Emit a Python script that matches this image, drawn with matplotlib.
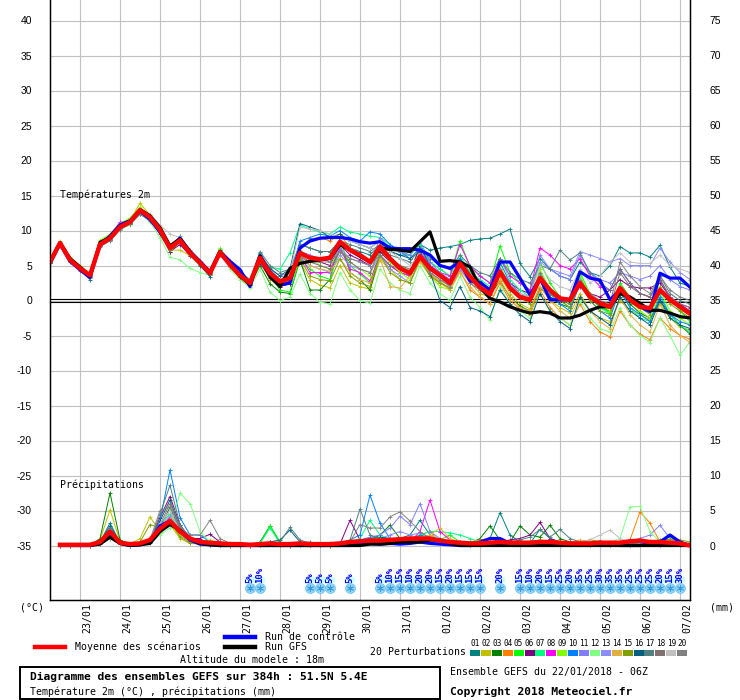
import numpy as np
import matplotlib
matplotlib.use("Agg")
import matplotlib.pyplot as plt
from matplotlib.lines import Line2D
from matplotlib.patches import Rectangle
from matplotlib.transforms import ScaledTranslation

plt.rcParams['font.family'] = ['DejaVu Sans Mono']
plt.rcParams['axes.unicode_minus'] = False

# ---------------- data (6h steps from 22/01 06Z) ----------------
days = ["23/01", "24/01", "25/01", "26/01", "27/01", "28/01", "29/01", "30/01",
        "31/01", "01/02", "02/02", "03/02", "04/02", "05/02", "06/02", "07/02"]
day_idx = [3, 7, 11, 15, 19, 23, 27, 31, 35, 39, 43, 47, 51, 55, 59, 63]

t_mean = [5.5, 8.2, 5.8, 4.6, 3.6, 8.0, 8.9, 10.5, 11.2, 12.9, 11.9, 10.1, 7.5, 8.6, 6.8,
          5.4, 3.9, 6.9, 5.1, 3.6, 2.5, 6.1, 3.9, 2.7, 3.2, 6.8, 6.1, 5.9, 6.1, 8.4,
          7.2, 6.5, 5.5, 7.7, 6.0, 4.6, 3.9, 6.3, 4.6, 3.6, 2.5, 5.3, 3.4, 1.9, 0.9,
          4.1, 1.8, 0.5, 0.1, 3.2, 1.5, 0.3, 0.1, 2.5, 0.5, -0.4, -0.9, 1.8, 0.1, -0.9,
          -1.1, 1.5, 0.1, -0.9, -1.9]
t_ctrl = [5.3, 8.1, 5.6, 4.4, 3.3, 8.0, 9.2, 10.8, 11.4, 12.8, 11.6, 9.8, 7.6, 8.9, 7.0,
          5.6, 4.1, 7.0, 5.6, 4.4, 2.0, 6.4, 4.0, 2.2, 2.5, 7.5, 8.5, 8.9, 9.0, 9.0,
          8.8, 8.4, 8.2, 8.4, 7.5, 7.4, 7.4, 7.2, 6.5, 5.0, 4.6, 5.5, 2.8, 2.6, 1.5,
          5.5, 5.5, 3.2, 0.8, 3.2, 0.1, 0.1, 0.1, 4.1, 3.2, 2.9, 0.1, 1.5, 0.0, -0.9,
          -1.6, 3.9, 3.2, 3.2, 1.9]
t_gfs = [5.6, 8.3, 6.0, 4.8, 3.5, 8.3, 9.0, 10.6, 11.3, 13.0, 12.1, 10.4, 7.8, 8.8, 7.0,
         5.4, 4.0, 7.0, 5.2, 3.5, 2.3, 6.3, 3.4, 2.0, 4.6, 5.3, 5.6, 5.8, 6.0, 8.0,
         7.2, 6.3, 5.5, 7.5, 7.3, 7.2, 7.0, 8.4, 9.8, 5.6, 5.7, 5.5, 4.8, 1.9, 0.3,
         -0.2, -0.9, -1.4, -1.8, -1.6, -1.8, -2.5, -2.5, -2.1, -1.4, -0.9, -0.9, 1.0, 0.5, -0.4,
         -1.4, -1.4, -1.8, -2.3, -2.5]

t_p01 = [5.4, 8.0, 5.9, 4.5, 3.4, 8.3, 9.0, 10.3, 11.0, 12.5, 11.6, 10.0, 7.8, 9.0, 6.9, 5.5, 4.0, 7.0, 5.3, 3.8, 2.8, 6.8, 4.4,
         3.0, 3.5, 8.0, 7.5, 7.0, 7.0, 8.5, 7.5, 7.0, 6.5, 8.0, 7.0, 6.5, 6.5, 8.0, 7.2, 7.5, 7.7, 8.0, 8.6,
         8.8, 8.9, 9.5, 10.2, 5.3, 3.4, 6.0, 4.5, 3.5, 3.0, 5.5, 4.0, 3.5, 5.0, 7.7, 6.8, 6.8, 6.2, 7.9, 4.8, 2.5, 2.0]
t_p02 = [5.6, 8.4, 6.0, 4.8, 3.7, 8.5, 9.1, 10.9, 11.5, 13.9, 12.2, 10.4, 7.2, 7.2, 6.4, 5.0, 3.6, 6.8, 4.8, 3.2, 2.0, 5.5, 3.0,
         2.0, 2.4, 5.5, 3.0, 2.2, 1.8, 5.0, 2.5, 2.0, 1.6, 5.8, 4.5, 3.0, 2.5, 5.6, 3.8, 2.8, 1.5, 4.4, 2.6,
         1.0, 0.5, 3.5, 1.0, -0.5, -1.2, 2.0, 0.0, -1.0, -1.8, 1.0, -1.5, -2.5, -3.0, 0.0, -1.5, -2.0, -2.8, -0.5, -2.5, -3.8, -4.2]
t_p03 = [5.7, 8.1, 5.7, 4.4, 3.5, 8.1, 8.7, 10.4, 11.1, 12.7, 11.8, 9.8, 7.0, 8.4, 6.6, 5.2, 3.7, 6.6, 4.9, 3.4, 2.2, 5.0, 2.4,
         1.2, 1.0, 5.8, 1.5, 1.5, 3.0, 9.0, 4.0, 3.0, 1.5, 6.5, 5.0, 4.0, 3.5, 6.2, 4.5, 3.5, 2.0, 5.0, 3.0,
         2.2, 0.8, 2.8, 0.5, -0.8, -1.5, 1.8, 0.5, -0.5, -1.0, 2.5, 0.5, -1.0, -1.5, 1.0, -0.5, -1.8, -2.5, 0.0, -2.0, -3.5, -4.8]
t_p04 = [5.5, 8.3, 5.8, 4.7, 3.6, 8.2, 8.8, 10.6, 11.3, 13.0, 12.0, 10.3, 7.7, 8.7, 6.9, 5.4, 3.8, 7.0, 5.0, 3.5, 2.4, 5.8, 3.4,
         2.0, 2.8, 7.5, 8.8, 9.0, 8.5, 9.5, 7.5, 6.5, 5.8, 7.0, 5.5, 4.5, 4.0, 6.0, 3.8, 2.5, 1.8, 4.2, 1.5,
         0.5, -0.5, 2.5, 0.0, -1.2, -2.0, 1.5, -1.0, -2.5, -3.5, -0.5, -3.0, -4.5, -5.2, -1.5, -3.5, -4.8, -5.6, -2.5, -4.0, -5.0, -5.5]
t_p05 = [5.3, 8.0, 6.1, 4.9, 3.8, 8.4, 9.2, 11.0, 11.6, 12.8, 11.5, 9.6, 7.4, 8.2, 6.6, 5.1, 3.7, 7.3, 5.6, 4.0, 2.7, 6.7, 3.6,
         1.5, 1.2, 6.0, 4.5, 3.5, 3.0, 7.5, 5.0, 3.8, 2.5, 7.0, 6.0, 5.0, 4.2, 7.5, 5.5, 4.5, 3.5, 8.5, 4.8,
         3.5, 2.5, 7.8, 4.0, 2.5, 1.5, 5.5, 2.5, 0.5, -0.5, 4.0, 1.0, -0.8, -1.8, 2.5, 0.5, -0.8, -1.5, 3.0, 0.5, -1.5, -3.0]
t_p06 = [5.6, 8.2, 5.7, 4.5, 3.5, 7.8, 8.6, 10.2, 11.4, 12.4, 11.5, 9.5, 7.0, 8.0, 6.4, 5.3, 3.9, 6.5, 5.0, 3.6, 2.6, 5.4, 3.2,
         2.0, 2.4, 7.0, 6.0, 5.5, 5.0, 8.0, 6.5, 5.8, 5.0, 7.0, 5.5, 4.5, 4.0, 7.8, 5.0, 3.8, 3.0, 6.0, 4.0,
         2.8, 1.5, 4.0, 2.5, 1.5, 1.0, 3.0, 1.5, 0.5, 0.0, 2.0, 1.0, 0.5, 1.5, 3.0, 2.0, 1.8, 1.8, 2.5, 0.5, -0.5, -1.5]
t_p07 = [5.4, 8.1, 5.9, 4.6, 3.7, 8.1, 9.0, 10.7, 11.2, 12.6, 11.7, 10.2, 7.9, 8.7, 6.7, 5.5, 4.1, 7.4, 5.2, 3.7, 2.3, 6.0, 4.8,
         4.5, 6.8, 10.8, 10.2, 9.8, 9.5, 10.5, 9.8, 9.5, 9.2, 9.0, 8.0, 7.0, 6.5, 8.0, 5.5, 4.5, 3.5, 6.5, 4.0,
         3.0, 2.0, 6.0, 3.0, 1.5, 0.5, 4.0, 1.5, 0.0, -1.0, 3.5, 0.5, -1.0, -2.0, 1.5, -1.0, -2.5, -3.0, 1.0, -2.0, -3.5, -4.5]
t_p08 = [5.5, 8.2, 5.8, 4.6, 3.6, 8.0, 9.3, 11.2, 11.3, 12.9, 12.0, 10.0, 7.5, 8.5, 6.8, 5.3, 3.8, 6.9, 5.2, 3.6, 2.5, 6.2, 3.8,
         2.5, 3.0, 6.5, 4.0, 4.0, 4.0, 7.5, 4.5, 4.0, 2.8, 6.5, 5.0, 4.0, 3.5, 7.0, 5.0, 4.0, 3.5, 8.0, 5.0,
         3.5, 2.5, 6.0, 3.5, 2.5, 1.5, 7.5, 6.5, 5.0, 4.5, 6.0, 3.5, 2.0, 1.5, 4.5, 2.5, 1.0, 0.5, 3.0, 0.5, -0.5, -1.0]
t_p09 = [5.6, 8.5, 6.2, 5.0, 3.9, 8.6, 9.5, 11.0, 11.8, 13.3, 12.2, 10.5, 7.3, 8.8, 7.0, 5.6, 4.2, 7.5, 5.4, 3.9, 2.9, 6.5, 4.1,
         2.8, 3.0, 7.2, 6.0, 5.0, 4.5, 8.0, 5.5, 4.5, 3.5, 7.5, 5.5, 4.0, 3.0, 6.5, 3.5, 2.0, 1.5, 5.5, 3.0,
         2.0, 1.0, 5.0, 2.0, 0.5, 0.0, 4.5, 1.5, 0.5, -0.5, 3.5, 1.0, -0.5, -1.5, 2.0, 0.0, -1.5, -2.5, 1.5, -1.5, -2.5, -3.5]
t_p10 = [5.4, 8.2, 5.7, 4.5, 3.5, 8.0, 8.9, 10.6, 11.3, 12.8, 11.8, 10.1, 7.6, 8.6, 6.9, 5.6, 3.9, 6.8, 5.5, 4.3, 2.8, 6.3, 4.2,
         3.0, 3.5, 8.5, 9.0, 9.5, 9.2, 10.0, 9.0, 8.5, 9.8, 9.5, 8.0, 7.0, 6.0, 7.5, 5.0, 3.5, 2.5, 6.0, 3.5,
         2.5, 1.5, 5.5, 2.5, 1.0, 0.0, 3.5, 1.0, -0.5, -1.5, 2.5, 0.0, -1.5, -2.5, 1.5, -1.0, -2.0, -3.0, 0.5, -2.0, -3.0, -3.5]
t_p11 = [5.3, 8.0, 5.6, 4.3, 3.3, 7.9, 8.7, 10.4, 11.0, 12.6, 11.6, 9.9, 7.4, 8.5, 6.7, 5.3, 3.8, 6.7, 5.2, 3.7, 2.6, 6.4, 4.5,
         3.5, 4.0, 7.0, 6.5, 6.0, 5.5, 7.5, 6.0, 5.5, 5.0, 9.0, 7.5, 7.0, 6.5, 8.5, 5.5, 4.0, 3.0, 5.5, 3.5,
         2.5, 1.5, 4.5, 2.5, 1.0, 0.5, 6.5, 4.5, 3.5, 3.0, 6.5, 4.0, 3.0, 2.5, 4.0, 3.5, 3.0, 3.5, 5.0, 3.0, 2.0, 1.5]
t_p12 = [5.7, 8.3, 6.0, 4.7, 3.8, 8.3, 8.9, 10.2, 10.8, 12.5, 11.2, 9.0, 6.2, 5.8, 4.6, 4.0, 3.6, 7.2, 4.5, 3.0, 1.8, 4.5, 1.2,
         0.0, 0.5, 3.8, 1.0, -0.2, -0.5, 4.0, 1.5, 0.0, -0.4, 4.5, 2.5, 1.5, 1.0, 5.0, 2.5, 1.0, 0.0, 3.5, 0.5,
         -1.0, -2.8, 2.0, -0.5, -1.5, -2.5, 1.0, -1.5, -2.5, -3.5, 0.0, -2.5, -4.0, -4.5, -1.0, -3.5, -5.0, -6.0, -2.5, -5.0, -7.8, -5.9]
t_p13 = [5.5, 8.1, 5.8, 4.6, 3.5, 8.1, 9.0, 10.5, 11.2, 12.8, 11.9, 10.2, 7.6, 8.6, 6.8, 5.5, 4.0, 6.9, 5.3, 3.8, 2.7, 6.0, 3.8,
         2.6, 3.2, 6.0, 5.0, 4.5, 4.0, 6.5, 5.0, 4.5, 4.0, 6.5, 4.5, 3.5, 2.5, 6.0, 4.0, 3.0, 2.0, 4.5, 2.5,
         1.5, 0.5, 4.5, 2.0, 1.0, 0.5, 5.5, 4.5, 4.0, 3.5, 7.0, 6.5, 6.0, 5.5, 6.0, 5.0, 5.0, 5.0, 7.5, 5.5, 4.0, 3.0]
t_p14 = [5.6, 8.4, 5.9, 4.7, 3.6, 8.2, 8.9, 10.6, 11.4, 13.1, 12.0, 10.2, 7.4, 8.5, 6.6, 5.2, 3.7, 6.7, 4.8, 3.4, 2.3, 5.7, 3.5,
         2.5, 3.0, 6.5, 5.0, 4.5, 4.2, 6.0, 4.0, 3.0, 2.5, 6.0, 2.0, 1.8, 3.5, 5.5, 3.5, 2.5, 1.5, 4.0, 2.0,
         0.5, -0.5, 3.0, 0.5, -1.0, -1.5, 2.0, 0.0, -1.5, -2.5, 0.5, -1.5, -3.0, -4.0, 0.5, -2.0, -3.5, -4.5, -0.5, -3.5, -5.0, -6.0]
t_p15 = [5.4, 8.2, 5.7, 4.5, 3.4, 7.9, 8.8, 10.5, 11.2, 12.9, 11.9, 10.0, 7.2, 8.3, 6.5, 5.1, 3.6, 6.6, 4.9, 3.4, 2.4, 5.9, 3.7,
         2.4, 2.9, 6.0, 3.5, 3.0, 2.8, 6.0, 3.5, 2.5, 2.0, 6.5, 4.0, 3.0, 2.5, 6.0, 3.5, 2.5, 1.8, 5.0, 3.0,
         1.5, 0.5, 4.0, 1.5, 0.5, -0.5, 3.0, 1.0, 0.0, -1.0, 2.5, 0.0, -1.5, -2.0, 2.0, 0.0, -1.0, -2.0, 2.0, -0.5, -1.5, -2.5]
t_p16 = [5.5, 8.1, 5.6, 4.3, 3.0, 7.8, 8.8, 10.4, 11.1, 12.7, 11.7, 9.9, 7.6, 8.8, 6.6, 5.0, 3.4, 7.0, 5.1, 3.3, 2.2, 6.5, 4.6,
         3.5, 4.5, 11.0, 10.5, 10.0, 9.0, 9.5, 8.5, 8.0, 7.5, 8.5, 7.0, 6.5, 6.0, 7.0, 4.0, 0.0, -1.0, 2.0, -1.0,
         -1.5, -2.3, 1.5, -0.5, -2.0, -3.0, 1.0, -1.5, -3.0, -4.0, 0.5, -1.5, -2.5, -3.5, 0.5, -1.5, -2.5, -3.5, 0.0, -2.5, -3.5, -4.0]
t_p17 = [5.3, 7.9, 5.5, 4.2, 3.2, 7.7, 8.5, 10.1, 10.9, 12.3, 11.4, 9.8, 7.3, 9.2, 7.2, 5.7, 4.2, 7.2, 5.6, 4.1, 3.0, 7.0, 5.0,
         4.0, 4.5, 8.0, 7.5, 7.0, 7.0, 8.5, 8.0, 7.5, 7.0, 8.0, 6.5, 6.0, 5.5, 7.5, 6.0, 5.0, 4.5, 6.5, 5.0,
         4.0, 3.5, 6.0, 4.0, 3.0, 2.5, 5.0, 4.5, 7.2, 5.8, 6.8, 4.0, 2.5, 1.5, 4.5, 2.5, 1.0, 0.5, 3.5, 1.0, 0.0, -0.5]
t_p18 = [5.6, 8.2, 5.9, 4.6, 3.7, 8.1, 9.0, 10.6, 11.3, 12.9, 12.0, 10.1, 7.5, 8.6, 6.8, 5.4, 3.9, 6.8, 5.0, 3.5, 2.4, 6.0, 3.6,
         2.2, 2.8, 6.5, 5.5, 5.0, 4.5, 7.0, 5.5, 4.5, 4.0, 7.5, 6.0, 5.0, 4.5, 6.5, 4.5, 3.5, 2.5, 5.0, 3.0,
         2.0, 1.0, 4.0, 1.5, 0.5, 0.0, 3.5, 1.0, 0.0, -0.5, 2.5, 0.5, -0.5, -1.0, 4.0, 2.0, 1.0, 0.5, 3.0, 0.5, -0.5, -1.0]
t_p19 = [5.5, 8.2, 5.8, 4.6, 3.6, 8.0, 9.2, 10.8, 11.5, 13.0, 12.3, 10.8, 9.5, 9.0, 7.2, 5.6, 4.0, 7.0, 5.2, 3.7, 2.5, 6.2, 4.0,
         3.0, 4.0, 10.5, 10.2, 10.0, 9.5, 9.0, 8.5, 8.0, 7.5, 8.5, 7.0, 6.0, 5.0, 6.5, 4.5, 3.0, 2.0, 5.0, 3.0,
         1.5, 0.5, 4.5, 2.0, 1.0, 0.5, 5.0, 3.0, 2.0, 1.5, 4.5, 2.5, 3.5, 5.5, 6.8, 5.5, 5.3, 5.3, 6.5, 5.0, 4.5, 4.0]
t_p20 = [5.4, 8.0, 5.7, 4.4, 3.4, 7.8, 8.7, 10.3, 11.0, 12.6, 11.6, 9.9, 7.3, 8.4, 6.7, 5.3, 3.9, 6.8, 5.1, 3.6, 2.6, 6.1, 3.9,
         2.7, 3.3, 6.2, 5.5, 5.5, 5.5, 7.0, 6.0, 5.5, 5.0, 6.5, 5.0, 4.5, 4.0, 6.5, 4.0, 3.0, 2.0, 5.0, 2.5,
         1.5, 0.5, 4.5, 2.0, 0.5, 0.0, 4.0, 1.5, 0.5, 0.0, 3.0, 1.0, 0.0, -0.5, 5.5, 3.5, 2.0, 1.0, 3.5, 1.5, 0.5, 0.0]
t_pert = [t_p01, t_p02, t_p03, t_p04, t_p05, t_p06, t_p07, t_p08, t_p09, t_p10,
          t_p11, t_p12, t_p13, t_p14, t_p15, t_p16, t_p17, t_p18, t_p19, t_p20]

# precipitation (mm per 6h), from step 1
r_mean = [0.1, 0.1, 0.1, 0.1, 0.5, 2.0, 0.4, 0.2, 0.3, 0.8, 2.4, 3.5, 2.0, 1.0, 0.5, 0.4,
          0.3, 0.2, 0.2, 0.1, 0.2, 0.3, 0.2, 0.2, 0.3, 0.2, 0.2, 0.2, 0.3, 0.5, 0.6, 0.7,
          0.7, 0.8, 0.9, 1.0, 1.0, 1.0, 0.7, 0.5, 0.4, 0.3, 0.3, 0.4, 0.5, 0.4, 0.4, 0.4,
          0.5, 0.5, 0.4, 0.3, 0.3, 0.3, 0.4, 0.4, 0.4, 0.6, 0.7, 0.5, 0.5, 0.4, 0.3, 0.0]
r_ctrl = [0, 0, 0, 0, 0.3, 1.5, 0.3, 0, 0.1, 0.5, 2.8, 3.5, 2.0, 0.8, 0.2, 0.1,
          0, 0, 0, 0, 0, 0, 0, 0, 0, 0, 0, 0, 0, 0, 0.2, 0.3,
          0.2, 0.3, 0.2, 0.3, 0.5, 0.3, 0.2, 0.1, 0, 0, 0.5, 1.0, 1.0, 0.3, 0.1, 0,
          0.2, 0.5, 0.3, 0.1, 0, 0.2, 0.5, 0.2, 0, 0, 0, 0.3, 0.5, 1.5, 0.5, 0]
r_gfs = [0, 0, 0, 0, 0.2, 1.2, 0.3, 0, 0.1, 0.3, 2.0, 3.0, 2.2, 1.0, 0.3, 0.1,
         0, 0, 0, 0, 0, 0, 0, 0, 0, 0, 0, 0, 0, 0, 0, 0.2,
         0.2, 0.3, 0.5, 0.5, 0.5, 0.8, 0.8, 0.3, 0, 0, 0, 0, 0, 0, 0, 0,
         0, 0, 0, 0, 0, 0, 0, 0, 0, 0, 0, 0, 0, 0, 0, 0]

r_p01 = [0, 0, 0, 0, 0.5, 3.2, 0.4, 0, 0.2, 0.8, 2.5, 4.0, 1.5, 0.5, 0.2, 0.3,
         0.2, 0, 0, 0, 0.2, 0.5, 0.3, 0.2, 0.3, 0.5, 0.2, 0.1, 0.3, 0.5, 0.8, 0.6,
         0.5, 0.8, 1.0, 1.5, 3.6, 1.5, 0.8, 0.5, 0.3, 0.2, 0.5, 1.0, 4.7, 1.5, 0.5, 0.3,
         2.3, 1.0, 0.5, 0.3, 0.2, 0.2, 0.3, 0.2, 0.5, 0.3, 0.2, 0.5, 0.3, 0.2, 0.1, 0]
r_p02 = [0, 0, 0, 0, 0.8, 5.1, 0.6, 0.2, 1.0, 4.1, 2.0, 3.0, 1.0, 0.3, 0.2, 0.1,
         0.3, 0.2, 0, 0, 0.3, 0.2, 0.1, 0, 0.2, 0.3, 0.1, 0, 0.2, 0.3, 0.5, 0.4,
         0.8, 0.6, 0.5, 0.8, 1.0, 0.6, 0.4, 0.3, 0.2, 0.3, 0.5, 0.6, 0.4, 0.3, 0.2, 0.5,
         0.8, 0.6, 0.4, 0.3, 0.5, 0.8, 0.6, 0.3, 0.5, 0.8, 0.6, 0.4, 0.6, 0.8, 0.5, 0.2]
r_p03 = [0, 0, 0, 0, 1.0, 7.5, 0.8, 0.2, 0.3, 0.5, 2.5, 5.5, 2.0, 0.5, 0.3, 0.5,
         0.2, 0.1, 0, 0, 0.5, 2.8, 0.5, 0.2, 0.3, 0.2, 0.1, 0.2, 0.3, 0.5, 0.4, 0.8,
         1.5, 2.9, 1.0, 0.5, 0.6, 0.8, 0.5, 0.3, 0.2, 0.3, 1.0, 2.8, 0.8, 0.5, 2.8, 1.5,
         1.2, 2.9, 1.0, 0.5, 0.3, 0.2, 0.3, 0.5, 0.3, 0.5, 1.0, 0.5, 0.3, 0.2, 0.5, 0.2]
r_p04 = [0, 0, 0, 0, 0.3, 1.5, 0.3, 0, 0.2, 0.5, 3.0, 4.5, 2.5, 0.8, 0.3, 0.2,
         0.1, 0, 0, 0, 0.2, 0.3, 0.2, 0.1, 0.2, 0.3, 0.2, 0.1, 0.2, 0.3, 0.2, 0.3,
         0.5, 0.3, 0.8, 0.5, 1.5, 2.0, 0.5, 0.3, 0.2, 0.5, 0.8, 0.3, 0.2, 0.5, 0.3, 0.2,
         0.3, 0.2, 0.2, 0.3, 0.5, 0.3, 0.2, 0.3, 0.5, 0.8, 4.8, 3.2, 0.5, 0.3, 0.2, 0.1]
r_p05 = [0, 0, 0, 0, 0.3, 1.8, 0.4, 0, 0.2, 0.3, 2.0, 3.5, 1.5, 0.8, 0.3, 0.2,
         0.1, 0, 0, 0, 0.3, 2.8, 0.5, 0.2, 0.2, 0.1, 0.2, 0.3, 0.3, 0.5, 0.8, 1.0,
         0.8, 0.6, 0.8, 1.0, 1.5, 1.2, 0.8, 1.5, 0.5, 0.3, 0.2, 0.3, 0.5, 0.3, 0.2, 0.2,
         0.5, 0.3, 0.2, 0.2, 0.3, 0.2, 0.2, 0.3, 0.2, 0.3, 0.5, 0.3, 0.2, 0.5, 0.3, 0.1]
r_p06 = [0, 0, 0, 0, 0.2, 1.2, 0.3, 0, 0.2, 0.5, 4.0, 7.0, 3.0, 1.0, 1.0, 1.6,
         0.5, 0.2, 0, 0, 0.1, 0.2, 0.1, 0, 0.1, 0.2, 0.1, 0, 0.2, 3.6, 0.8, 0.5,
         0.3, 0.5, 0.8, 0.5, 1.0, 0.8, 0.5, 0.3, 0.2, 0.1, 0.2, 0.3, 0.5, 0.8, 1.0, 1.5,
         3.3, 1.0, 0.5, 0.3, 0.2, 0.1, 0.2, 0.1, 0.2, 0.1, 0.3, 0.2, 0.1, 0.2, 0.1, 0]
r_p07 = [0, 0, 0, 0, 0.4, 2.0, 0.5, 0.1, 0.3, 0.8, 3.0, 4.5, 2.0, 0.5, 0.2, 0.3,
         0.2, 0, 0, 0, 0.3, 2.5, 0.3, 0.1, 0.2, 0.1, 0.1, 0.2, 0.3, 0.5, 1.0, 3.6,
         1.5, 0.8, 0.6, 0.5, 1.5, 2.0, 2.0, 1.8, 1.5, 1.0, 0.5, 0.3, 0.2, 0.2, 0.3, 0.2,
         0.3, 0.2, 0.2, 0.1, 0.2, 0.3, 0.2, 0.2, 0.3, 0.2, 0.2, 0.3, 0.2, 0.1, 0.2, 0]
r_p08 = [0, 0, 0, 0, 0.5, 1.5, 0.3, 0, 0.2, 0.5, 2.8, 4.0, 1.8, 0.5, 0.2, 0.1,
         0.1, 0, 0, 0, 0.2, 0.3, 0.2, 0.1, 0.2, 0.1, 0.2, 0.2, 0.3, 0.2, 0.5, 0.8,
         0.5, 0.6, 0.8, 0.5, 2.0, 6.5, 2.0, 0.8, 0.5, 0.3, 0.2, 0.2, 0.3, 0.2, 0.2, 0.3,
         0.5, 0.3, 0.2, 0.2, 0.3, 0.2, 0.3, 0.2, 0.2, 0.3, 0.2, 0.2, 0.3, 0.2, 0.1, 0]
r_p09 = [0, 0, 0, 0, 0.3, 1.0, 0.2, 0, 0.2, 0.8, 2.0, 3.0, 1.5, 0.8, 0.5, 0.8,
         0.3, 0.1, 0, 0, 0.2, 0.5, 0.2, 0.1, 0.2, 0.2, 0.1, 0.1, 0.2, 0.3, 0.5, 0.8,
         1.0, 0.8, 0.5, 0.8, 1.2, 0.8, 0.6, 0.5, 0.3, 0.2, 0.3, 0.5, 0.3, 0.2, 0.3, 0.2,
         0.3, 0.5, 0.3, 0.2, 0.3, 0.2, 0.5, 0.3, 0.2, 0.5, 0.8, 0.3, 0.2, 0.3, 0.2, 0.1]
r_p10 = [0, 0, 0, 0, 0.3, 1.3, 0.3, 0, 0.2, 0.5, 3.5, 10.8, 4.0, 1.5, 1.5, 0.5,
         0.2, 0, 0, 0, 0.1, 0.3, 0.2, 0.1, 0.3, 0.2, 0.1, 0.2, 0.3, 0.8, 1.5, 7.2,
         3.2, 1.0, 0.8, 0.6, 1.5, 1.0, 0.5, 0.3, 0.2, 0.2, 0.3, 0.2, 0.2, 0.3, 0.2, 0.2,
         0.3, 0.2, 0.2, 0.3, 0.2, 0.2, 0.3, 0.2, 0.2, 0.3, 0.2, 0.2, 0.3, 0.2, 0.1, 0]
r_p11 = [0, 0, 0, 0, 0.4, 1.6, 0.4, 0, 0.3, 0.6, 3.0, 5.0, 2.2, 0.6, 0.3, 0.2,
         0.1, 0, 0, 0, 0.2, 0.4, 0.2, 0.1, 0.2, 0.2, 0.1, 0.2, 0.3, 0.5, 0.8, 1.2,
         1.5, 2.5, 4.2, 3.0, 6.0, 2.0, 1.0, 0.5, 0.3, 0.2, 0.3, 0.2, 0.3, 0.2, 0.2, 0.3,
         0.5, 0.3, 0.2, 0.2, 0.3, 0.2, 0.2, 0.3, 0.3, 0.5, 1.0, 1.5, 2.9, 1.0, 0.3, 0.1]
r_p12 = [0, 0, 0, 0, 0.3, 1.4, 0.3, 0, 0.2, 0.3, 1.5, 2.5, 7.5, 6.0, 2.0, 0.5,
         0.2, 0, 0, 0, 0.2, 0.3, 0.2, 0.1, 0.2, 0.1, 0.1, 0.2, 0.2, 0.3, 0.5, 0.5,
         0.8, 0.6, 0.5, 0.8, 1.0, 1.5, 0.8, 0.5, 0.3, 0.2, 0.2, 0.3, 0.2, 0.3, 0.2, 0.2,
         0.3, 0.2, 0.2, 0.2, 0.3, 0.2, 0.3, 0.5, 1.0, 5.5, 5.6, 2.0, 0.5, 0.3, 0.2, 0.1]
r_p13 = [0, 0, 0, 0, 0.3, 1.2, 0.3, 0, 0.2, 0.4, 2.5, 4.2, 1.8, 0.5, 0.2, 0.1,
         0.1, 0, 0, 0, 0.2, 0.3, 0.2, 0.1, 0.2, 0.1, 0.1, 0.2, 0.2, 0.4, 0.6, 0.8,
         1.0, 1.5, 2.0, 1.5, 1.8, 1.2, 0.8, 0.5, 0.3, 0.2, 0.2, 0.2, 0.3, 0.2, 0.3, 0.2,
         0.3, 0.2, 0.2, 0.3, 0.2, 0.2, 0.3, 0.2, 0.3, 0.2, 0.3, 0.5, 0.8, 1.2, 0.5, 0.1]
r_p14 = [0, 0, 0, 0, 0.3, 1.0, 0.2, 0, 0.2, 0.5, 2.2, 3.8, 1.6, 0.5, 0.2, 0.1,
         0.1, 0, 0, 0, 0.1, 0.2, 0.1, 0.1, 0.2, 0.1, 0.1, 0.1, 0.2, 0.3, 0.3, 0.5,
         0.5, 0.5, 0.8, 0.6, 1.0, 1.5, 2.5, 1.0, 0.5, 0.3, 0.2, 0.2, 0.3, 0.2, 0.2, 0.3,
         0.3, 0.2, 0.2, 0.5, 0.8, 0.5, 0.3, 0.3, 0.2, 0.3, 0.2, 0.3, 0.5, 0.3, 0.2, 0.1]
r_p15 = [0, 0, 0, 0, 0.3, 1.5, 0.4, 0.2, 0.5, 3.0, 2.5, 3.5, 1.2, 0.4, 0.2, 0.5,
         0.2, 0, 0, 0, 0.2, 0.3, 0.2, 0.1, 0.2, 0.1, 0.2, 0.1, 0.2, 0.3, 0.4, 0.6,
         0.8, 0.6, 0.5, 0.8, 1.0, 0.8, 0.5, 0.4, 0.3, 0.2, 0.3, 0.5, 0.4, 0.3, 0.5, 0.6,
         0.8, 0.6, 0.5, 0.4, 0.5, 0.8, 0.5, 0.4, 0.5, 0.6, 0.8, 0.6, 0.8, 0.9, 0.8, 0.5]
r_p16 = [0, 0, 0, 0, 0.5, 2.8, 0.5, 0.1, 0.3, 0.6, 3.5, 6.5, 2.5, 0.8, 0.3, 0.2,
         0.1, 0, 0, 0, 0.2, 0.5, 0.8, 2.2, 0.5, 0.3, 0.2, 0.2, 0.3, 0.5, 0.8, 1.0,
         1.2, 1.0, 0.8, 0.6, 1.0, 0.8, 0.5, 0.3, 0.2, 0.2, 0.3, 0.2, 0.3, 0.2, 0.2, 0.3,
         0.5, 0.3, 0.2, 0.2, 0.3, 0.2, 0.2, 0.3, 0.5, 0.8, 0.5, 0.3, 0.2, 0.3, 0.2, 0.1]
r_p17 = [0, 0, 0, 0, 0.4, 2.5, 0.4, 0, 0.2, 0.5, 4.5, 8.6, 3.0, 0.8, 0.3, 0.2,
         0.1, 0, 0, 0, 0.2, 0.4, 0.5, 2.6, 0.8, 0.3, 0.2, 0.2, 0.3, 0.8, 5.2, 1.5,
         1.0, 0.8, 0.6, 0.8, 1.2, 0.8, 0.5, 0.3, 0.2, 0.2, 0.3, 0.2, 0.3, 0.5, 0.8, 1.2,
         2.3, 1.2, 2.3, 1.0, 0.5, 0.3, 0.2, 0.3, 0.5, 0.3, 0.2, 0.3, 0.5, 0.3, 0.2, 0.1]
r_p18 = [0, 0, 0, 0, 0.3, 1.8, 0.4, 0, 0.2, 0.5, 3.0, 6.0, 2.5, 0.6, 0.2, 0.1,
         0.1, 0, 0, 0, 0.2, 0.3, 0.2, 0.1, 0.2, 0.1, 0.1, 0.2, 0.3, 0.4, 0.5, 0.8,
         1.0, 0.8, 1.0, 0.8, 1.2, 1.0, 0.6, 0.4, 0.3, 0.2, 0.2, 0.3, 0.2, 0.2, 0.3, 0.2,
         0.3, 0.2, 0.2, 0.2, 0.3, 0.2, 0.2, 0.3, 0.2, 0.3, 0.2, 0.3, 0.2, 0.2, 0.1, 0]
r_p19 = [0, 0, 0, 0, 0.3, 1.0, 0.3, 0, 0.2, 0.6, 3.2, 5.0, 2.0, 0.8, 0.4, 0.2,
         0.1, 0, 0, 0, 0.2, 0.3, 0.2, 0.1, 0.2, 0.1, 0.2, 0.2, 0.3, 0.4, 0.6, 0.8,
         0.8, 1.0, 0.8, 0.6, 1.0, 0.8, 0.5, 0.4, 0.3, 0.2, 0.2, 0.3, 0.5, 0.3, 0.2, 0.3,
         0.3, 0.2, 0.2, 0.3, 0.5, 0.8, 1.5, 2.2, 1.0, 0.5, 0.3, 0.2, 0.3, 0.2, 0.1, 0]
r_p20 = [0, 0, 0, 0, 0.5, 2.0, 0.5, 0.1, 0.3, 0.8, 5.0, 5.5, 2.5, 1.5, 1.5, 3.6,
         1.0, 0.3, 0, 0, 0.2, 0.3, 0.2, 0.1, 0.2, 0.1, 0.1, 0.2, 0.3, 0.5, 3.0, 2.5,
         2.5, 4.1, 4.8, 3.5, 2.0, 1.0, 0.6, 0.5, 0.3, 0.2, 0.2, 0.3, 0.2, 0.2, 0.3, 0.2,
         0.5, 0.3, 0.2, 0.2, 0.3, 0.2, 0.3, 0.2, 0.2, 0.3, 0.2, 0.2, 0.3, 0.2, 0.1, 0]
r_pert = [r_p01, r_p02, r_p03, r_p04, r_p05, r_p06, r_p07, r_p08, r_p09, r_p10,
          r_p11, r_p12, r_p13, r_p14, r_p15, r_p16, r_p17, r_p18, r_p19, r_p20]

pert_colors = ["#008080", "#c0c000", "#008000", "#ff8000", "#00ff00", "#800080", "#00ff80",
               "#ff00ff", "#80ff00", "#0080ff", "#8080ff", "#80ff80", "#8c8cff", "#e0b040",
               "#80a000", "#006080", "#508080", "#807070", "#c0c0c0", "#808080"]

# snow probability (%) per step
snow_idx = [20, 21, 26, 27, 28, 30, 33, 34, 35, 36, 37, 38, 39, 40, 41, 42, 43, 45,
            47, 48, 49, 50, 51, 52, 53, 54, 55, 56, 57, 58, 59, 60, 61, 62, 63]
snow_pct = [5, 10, 5, 5, 5, 5, 5, 10, 15, 10, 20, 20, 15, 20, 15, 15, 15, 20,
            15, 10, 20, 15, 25, 20, 35, 25, 30, 35, 35, 25, 25, 25, 20, 15, 30]

# ---------------- figure ----------------
W, H = 740, 700
PX = 1 / 7.0          # degrees per pixel
ZERO_Y = 300.5        # pixel row of 0 degC


def fx(x):
    return x / W


def fy(y):
    return 1 - y / H


def ty(y):
    return (ZERO_Y - y) * PX


fig = plt.figure(figsize=(7.4, 7.0), dpi=100)
ax = fig.add_axes([fx(50), fy(600), 640 / W, 600 / H])
ax.set_xlim(0, 64)
ylo, yhi = ty(600), ty(0)
ax.set_ylim(ylo, yhi)

for v in range(-35, 41, 5):
    ax.axhline(v, color="#c0c0c0", lw=0.8, zorder=0)
for d in day_idx:
    ax.axvline(d, color="#c0c0c0", lw=0.8, zorder=0)
ax.axhline(0.2, color="black", lw=0.8, zorder=1)
ax.axhline(-0.2, color="black", lw=0.8, zorder=1)

# perturbations
for vals, c in zip(t_pert, pert_colors):
    ax.plot(np.arange(len(vals)), vals, color=c, lw=0.7, marker="+", ms=2.5, mew=0.6, zorder=2)
for vals, c in zip(r_pert, pert_colors):
    ax.plot(np.arange(1, len(vals) + 1), np.array(vals) - 35, color=c, lw=0.7,
            marker="+", ms=2.5, mew=0.6, zorder=2)

# control, GFS, mean
ax.plot(np.arange(len(t_ctrl)), t_ctrl, color="#0000ff", lw=2.3, zorder=3)
ax.plot(np.arange(1, len(r_ctrl) + 1), np.array(r_ctrl) - 35, color="#0000ff", lw=2.3, zorder=3)
ax.plot(np.arange(len(t_gfs)), t_gfs, color="black", lw=2.3, zorder=3)
ax.plot(np.arange(1, len(r_gfs) + 1), np.array(r_gfs) - 35, color="black", lw=2.3, zorder=3)
ax.plot(np.arange(len(t_mean)), t_mean, color="#ff0000", lw=3.2, zorder=4)
ax.plot(np.arange(1, len(r_mean) + 1), np.array(r_mean) - 35, color="#ff0000", lw=3.2, zorder=4)

# snow symbols
for i, p in zip(snow_idx, snow_pct):
    ax.add_patch(Rectangle((i - 0.5, ty(583)), 1, ty(577) - ty(583), color="#ccffff", lw=0, zorder=3))
    ax.text(i, ty(583), f"{p}%", rotation=90, ha="center", va="bottom", color="#0000ff",
            fontsize=6.5, fontweight="bold", zorder=4)
sy = [ty(588)] * len(snow_idx)
ax.plot(snow_idx, sy, "o", ms=7.2, color="#8fd6fb", mec="#70c0f0", mew=0.5, zorder=4)
ax.plot(snow_idx, sy, ls="none", marker=(6, 2, 0), ms=5, color="#3c9ae0", mew=0.6, zorder=5)

ax.text(1, ty(195), "Températures 2m", fontsize=7.1, va="center", ha="left", zorder=6)
ax.text(1, ty(485), "Précipitations", fontsize=7.1, va="center", ha="left", zorder=6)

# axes styling
for s in ["left", "right", "bottom"]:
    ax.spines[s].set_linewidth(1.0)
ax.spines["top"].set_visible(False)
ax.set_yticks(range(-35, 41, 5))
ax.tick_params(axis="y", length=0, pad=13, labelsize=7.5, labelfontfamily="Liberation Sans")
ax.set_xticks(day_idx)
ax.set_xticklabels(days, rotation=90, fontsize=7.1)
ax.tick_params(axis="x", length=0, pad=2.2)
for lbl in ax.get_xticklabels():
    lbl.set_transform(lbl.get_transform() + ScaledTranslation(7 / 100, 0, fig.dpi_scale_trans))

ax2 = ax.twinx()
ax2.set_ylim(ylo + 35, yhi + 35)
ax2.set_yticks(range(0, 76, 5))
ax2.tick_params(axis="y", length=0, pad=14, labelsize=7.5, labelfontfamily="Liberation Sans")
ax2.spines["top"].set_visible(False)

fig.text(fx(20), fy(607), "(°C)", fontsize=7.1, va="center", ha="left")
fig.text(fx(710), fy(607), "(mm)", fontsize=7.1, va="center", ha="left")

# legend
fig.add_artist(Line2D([fx(35), fx(65)], [fy(647), fy(647)], color="#ff0000", lw=3.2))
fig.text(fx(75), fy(647), "Moyenne des scénarios", fontsize=7.1, va="center")
fig.add_artist(Line2D([fx(225), fx(255)], [fy(637), fy(637)], color="#0000ff", lw=3.2))
fig.text(fx(265), fy(637), "Run de contrôle", fontsize=7.1, va="center")
fig.add_artist(Line2D([fx(225), fx(255)], [fy(647), fy(647)], color="black", lw=3.2))
fig.text(fx(265), fy(647), "Run GFS", fontsize=7.1, va="center")
fig.text(fx(180), fy(660), "Altitude du modele : 18m", fontsize=7.1, va="center")

fig.text(fx(370), fy(652), "20 Perturbations", fontsize=7.1, va="center")
for k, c in enumerate(pert_colors):
    x0 = 470 + k * 10.9
    fig.add_artist(Rectangle((fx(x0), fy(656)), 10 / W, 6 / H, color=c, lw=0,
                             transform=fig.transFigure))
    fig.text(fx(x0 + 5), fy(644), f"{k + 1:02d}", fontsize=5.6, ha="center", va="center")

fig.add_artist(Rectangle((fx(20), fy(699)), 420 / W, 32 / H, fill=False, ec="black", lw=1.4,
                         transform=fig.transFigure))
fig.text(fx(30), fy(677), "Diagramme des ensembles GEFS sur 384h : 51.5N 5.4E",
         fontsize=8.1, fontweight="bold", va="center")
fig.text(fx(30), fy(692), "Température 2m (°C) , précipitations (mm)", fontsize=7.1, va="center")
fig.text(fx(450), fy(672), "Ensemble GEFS du 22/01/2018 - 06Z", fontsize=7.1, va="center")
fig.text(fx(450), fy(692), "Copyright 2018 Meteociel.fr", fontsize=8.1, fontweight="bold",
         va="center")

fig.savefig("out.png", dpi=100, facecolor="white")
